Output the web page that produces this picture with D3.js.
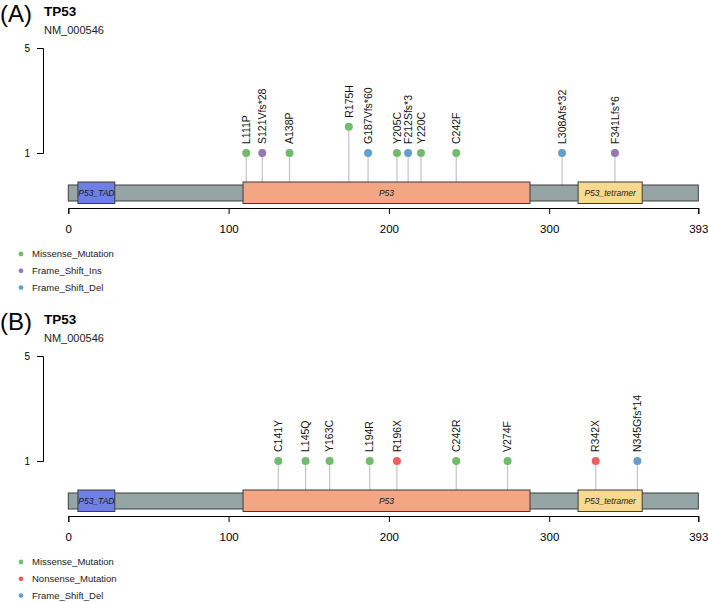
<!DOCTYPE html>
<html>
<head>
<meta charset="utf-8">
<script src="https://cdn.jsdelivr.net/npm/d3@7"></script>
<style>
  body { margin: 0; background: #fff; }
  svg text { font-family: "Liberation Sans", Arial, sans-serif; }
</style>
</head>
<body>
<script>
// TP53 lollipop plots, two panels (A) and (B)

// protein and domains
var geneName = "TP53";
var refSeqId = "NM_000546";
var proteinLength = 393;
var domainNames = ["P53_TAD", "P53", "P53_tetramer"];
var domainStart = [6, 109, 318];
var domainEnd = [29, 288, 358];
var domainColors = ["#6f7fe6", "#f3a584", "#f8d98f"];
var xTicks = [0, 100, 200, 300, 393];
var yTicks = [1, 5];

// panel A mutations
var aLabels = ["L111P", "S121Vfs*28", "A138P", "R175H", "G187Vfs*60",
    "Y205C", "F212Sfs*3", "Y220C", "C242F", "L308Afs*32", "F341Lfs*6"];
var aPos = [111, 121, 138, 175, 187, 205, 212, 220, 242, 308, 341];
var aCount = [1, 1, 1, 2, 1, 1, 1, 1, 1, 1, 1];
var aClass = ["Missense_Mutation", "Frame_Shift_Ins", "Missense_Mutation",
    "Missense_Mutation", "Frame_Shift_Del", "Missense_Mutation",
    "Frame_Shift_Del", "Missense_Mutation", "Missense_Mutation",
    "Frame_Shift_Del", "Frame_Shift_Ins"];
var aLegend = ["Missense_Mutation", "Frame_Shift_Ins", "Frame_Shift_Del"];

// panel B mutations (positions as plotted)
var bLabels = ["C141Y", "L145Q", "Y163C", "L194R", "R196X", "C242R",
    "V274F", "R342X", "N345Gfs*14"];
var bPos = [131, 148, 163, 188, 205, 242, 274, 329, 355];
var bCount = [1, 1, 1, 1, 1, 1, 1, 1, 1];
var bClass = ["Missense_Mutation", "Missense_Mutation", "Missense_Mutation",
    "Missense_Mutation", "Nonsense_Mutation", "Missense_Mutation",
    "Missense_Mutation", "Nonsense_Mutation", "Frame_Shift_Del"];
var bLegend = ["Missense_Mutation", "Nonsense_Mutation", "Frame_Shift_Del"];

var classColors = {
    "Missense_Mutation": "#70bc6b",
    "Frame_Shift_Ins": "#9777b8",
    "Frame_Shift_Del": "#62a0cb",
    "Nonsense_Mutation": "#eb5f60"
};

var W = 708, H = 602;
var svg = d3.select("body").append("svg")
    .attr("width", W)
    .attr("height", H);

var x = d3.scaleLinear().domain([0, proteinLength]).range([68.3, 698.3]);
var y = d3.scaleLinear().domain([1, 5]).range([153, 48]);

function drawPanel(offsetY, tag, labels, pos, count, cls, legend) {
    var g = svg.append("g")
        .attr("transform", "translate(0," + offsetY + ")");

    // panel tag and titles
    g.append("text").attr("x", 0).attr("y", 22)
        .style("font-size", "24px").text(tag);
    g.append("text").attr("x", 44).attr("y", 16)
        .style("font-size", "13.5px").style("font-weight", "bold")
        .text(geneName);
    g.append("text").attr("x", 44).attr("y", 34)
        .style("font-size", "11px").attr("fill", "#222")
        .text(refSeqId);

    // y axis
    var yAx = g.append("g").attr("transform", "translate(43,0)")
        .call(d3.axisLeft(y).tickValues(yTicks).tickSize(6)
            .tickSizeOuter(6).tickPadding(7).tickFormat(d3.format("d")));
    yAx.selectAll("text").style("font-size", "10px")
        .style("font-family", "Liberation Sans, Arial, sans-serif");

    var muts = labels.map(function(l, i) {
        return {label: l, pos: pos[i], count: count[i], cls: cls[i]};
    });

    // stems
    g.selectAll(".stem").data(muts).enter().append("line")
        .attr("class", "stem")
        .attr("x1", function(d) { return x(d.pos); })
        .attr("x2", function(d) { return x(d.pos); })
        .attr("y1", function(d) { return y(d.count); })
        .attr("y2", 186)
        .attr("stroke", "#c4c4c4")
        .attr("stroke-width", 1.2);

    // backbone
    g.append("rect")
        .attr("x", x(0)).attr("y", 185)
        .attr("width", x(proteinLength) - x(0)).attr("height", 16)
        .attr("fill", "#95a5a6").attr("stroke", "#3c3c3c")
        .attr("stroke-width", 1);

    // domains
    domainNames.forEach(function(n, i) {
        g.append("rect")
            .attr("x", x(domainStart[i])).attr("y", 182)
            .attr("width", x(domainEnd[i]) - x(domainStart[i]))
            .attr("height", 21.5)
            .attr("fill", domainColors[i]).attr("stroke", "#3c3c3c")
            .attr("stroke-width", 1);
        g.append("text")
            .attr("x", (x(domainStart[i]) + x(domainEnd[i])) / 2)
            .attr("y", 193).attr("dy", "0.35em")
            .attr("text-anchor", "middle")
            .style("font-size", "8.5px").style("font-style", "italic")
            .attr("fill", "#1a1a1a")
            .text(n);
    });

    // x axis
    var xAx = g.append("g").attr("transform", "translate(0,208)")
        .call(d3.axisBottom(x).tickValues(xTicks).tickSize(6)
            .tickSizeOuter(6).tickPadding(11).tickFormat(d3.format("d")));
    xAx.selectAll("text").style("font-size", "11.5px")
        .style("font-family", "Liberation Sans, Arial, sans-serif");

    // lollipop heads
    g.selectAll(".dot").data(muts).enter().append("circle")
        .attr("class", "dot")
        .attr("cx", function(d) { return x(d.pos); })
        .attr("cy", function(d) { return y(d.count); })
        .attr("r", 4)
        .attr("fill", function(d) { return classColors[d.cls]; });

    // mutation labels
    g.selectAll(".lab").data(muts).enter().append("text")
        .attr("class", "lab")
        .attr("transform", function(d) {
            return "translate(" + x(d.pos) + "," + (y(d.count) - 9) +
                ") rotate(-90)";
        })
        .attr("dy", "0.36em")
        .style("font-size", "10.5px")
        .attr("fill", "#111")
        .text(function(d) { return d.label; });

    // legend
    legend.forEach(function(c, i) {
        var ly = 254 + i * 16.8;
        g.append("circle").attr("cx", 21).attr("cy", ly).attr("r", 2.4)
            .attr("fill", classColors[c]);
        g.append("text").attr("x", 32).attr("y", ly).attr("dy", "0.35em")
            .style("font-size", "9.5px").attr("fill", "#222")
            .text(c);
    });
}

drawPanel(0, "(A)", aLabels, aPos, aCount, aClass, aLegend);
drawPanel(308, "(B)", bLabels, bPos, bCount, bClass, bLegend);
</script>
</body>
</html>
